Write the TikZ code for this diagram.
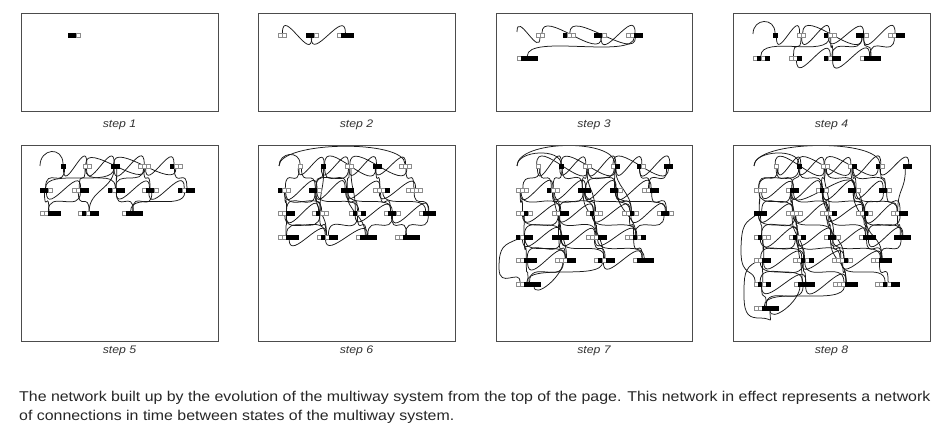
\documentclass[tikz,border=0pt]{standalone}
\usepackage{fontspec}
\setmainfont{Liberation Sans}
\newfontfamily\capfont[FakeStretch=1.12]{Liberation Sans}
\pgfdeclarelayer{edges}
\pgfsetlayers{edges,main}
\newcommand\mkstate[4]{%
  \foreach \c [count=\i] in {#4} {\xdef\stn{\i}}%
  \pgfmathsetmacro\stw{\stn*4}%
  \node[stnode, minimum width=\stw bp, anchor=west] (#1) at (#2,#3) {};%
  \foreach \c [count=\i] in {#4} {\path[cell\c] ([xshift=\i*4bp-4bp, yshift=2bp]#1.west) rectangle +(4,4);}%
}
\newcommand\edg[2]{%
  \path (#1.south); \pgfgetlastxy{\ax}{\ay}%
  \path (#2.north); \pgfgetlastxy{\bx}{\by}%
  \pgfmathsetmacro\ea{rand*2}%
  \pgfmathsetmacro\eb{rand*2}%
  \pgfmathsetmacro\eh{((\by-\ay)>0 ? 27 : 22)+rand*3}%
  \draw[edge] ([xshift=\ea bp]#1.south) .. controls +(0,\eh) and +(0,-\eh) .. ([xshift=\eb bp]#2.north);%
}
\begin{document}
\begin{tikzpicture}[x=1bp,y=-1bp,
  frame/.style={draw=black!70, line width=0.9bp},
  edge/.style={draw=black!90, line width=0.75bp},
  cell0/.style={fill=white, draw=black!45, line width=0.4bp},
  cell1/.style={fill=black, draw=black, line width=0.4bp},
  stnode/.style={inner sep=0pt, outer sep=0pt, minimum height=4bp},
  stepcap/.style={font=\capfont\itshape\fontsize{11}{13}\selectfont, text=black!80},
  txt/.style={font=\capfont\fontsize{14.26}{17}\selectfont, text=black!85, inner sep=0pt, anchor=base west}]
\pgfmathsetseed{7}
\useasboundingbox (0,0) rectangle (946,435);
% frames
\draw[frame] (21,13) rectangle (218,111);
\draw[frame] (258,13) rectangle (455,111);
\draw[frame] (496,13) rectangle (692,111);
\draw[frame] (733,13) rectangle (930,111);
\draw[frame] (21,145) rectangle (218,341);
\draw[frame] (258,145) rectangle (455,341);
\draw[frame] (496,145) rectangle (692,341);
\draw[frame] (733,145) rectangle (930,341);
% captions
\node[stepcap] (s1) at (119.5,125) {step 1};
\node[stepcap] (s2) at (356.5,125) {step 2};
\node[stepcap] (s3) at (594,125) {step 3};
\node[stepcap] (s4) at (831.5,125) {step 4};
\node[stepcap] (s5) at (119.5,351) {step 5};
\node[stepcap] (s6) at (356.5,351) {step 6};
\node[stepcap] (s7) at (594,351) {step 7};
\node[stepcap] (s8) at (831.5,351) {step 8};
\node[txt] (t1) at (19,401) {The network built up by the evolution of the multiway system from the top of the page. This network in effect represents a network};
\node[txt] (t2) at (19,420) {of connections in time between states of the multiway system.};
% ---- step 1
\mkstate{Aa1}{68}{35}{1,1,0}
% ---- step 2
\mkstate{Ba1}{278}{35}{0,0}
\mkstate{Ba2}{306}{35}{1,1,0}
\mkstate{Ba3}{337}{35}{0,1,1,1}
% ---- step 3
\mkstate{Ca1}{536}{35}{0,0}
\mkstate{Ca2}{563}{35}{1,0,0}
\mkstate{Ca3}{594}{35}{1,1,0}
\mkstate{Ca4}{626}{35}{0,0,1,1}
\mkstate{Cb1}{517}{58}{0,1,1,1,1}
\coordinate (Cf) at (517,32);
% ---- step 4
\mkstate{Da1}{773}{35}{1}
\mkstate{Da2}{797}{35}{0,0}
\mkstate{Da3}{824}{35}{1,0,0}
\mkstate{Da4}{856}{35}{1,1,0}
\mkstate{Da5}{888}{35}{0,0,1,1}
\mkstate{Db1}{753}{58}{0,1,0,1}
\mkstate{Db2}{789}{58}{0,0,1}
\mkstate{Db3}{824}{58}{1,0,1,1}
\mkstate{Db4}{860}{58}{0,1,1,1,1}
\coordinate (Df) at (753,34);
% ---- step 5
\mkstate{Ea1}{61}{166}{1}
\mkstate{Ea2}{83}{166}{0,0}
\mkstate{Ea3}{111}{166}{1,1}
\mkstate{Ea4}{138}{166}{0,0,0}
\mkstate{Ea5}{170}{166}{1,0,0}
\mkstate{Eb1}{40}{190}{1,1,0}
\mkstate{Eb2}{72}{190}{0,0,1,1}
\mkstate{Eb3}{108}{190}{1,0,1,1}
\mkstate{Eb4}{142}{190}{0,1,1,0}
\mkstate{Eb5}{178}{190}{1,0,1,1}
\mkstate{Ec1}{40}{213}{0,0,1,1,1}
\mkstate{Ec2}{78}{213}{0,1,0,1,1}
\mkstate{Ec3}{122}{213}{0,1,1,1,1}
\coordinate (Ef) at (40,166);
% ---- step 6
\mkstate{Fa1}{298}{166}{0}
\mkstate{Fa2}{321}{166}{1}
\mkstate{Fa3}{345}{166}{0,0}
\mkstate{Fa4}{373}{166}{1,1}
\mkstate{Fa5}{399}{166}{0,0,0}
\mkstate{Fb1}{278}{190}{1,0,0}
\mkstate{Fb2}{309}{190}{1,1,0}
\mkstate{Fb3}{341}{190}{1,1,1}
\mkstate{Fb4}{373}{190}{0,0,0,1}
\mkstate{Fb5}{406}{190}{0,0,0,0}
\mkstate{Fc1}{278}{213}{0,0,1,1}
\mkstate{Fc2}{312}{213}{0,1,0,0}
\mkstate{Fc3}{349}{213}{0,1,0,1}
\mkstate{Fc4}{384}{213}{0,1,1,0}
\mkstate{Fc5}{419}{213}{0,1,1,1}
\mkstate{Fd1}{278}{237}{0,0,1,1,1}
\mkstate{Fd2}{317}{237}{0,1,0,1,1}
\mkstate{Fd3}{356}{237}{0,1,1,1,1}
\mkstate{Fd4}{395}{237}{0,0,1,1,1,1}
\coordinate (Ff) at (279,166);
% ---- step 7
\mkstate{Ga1}{536}{166}{0}
\mkstate{Ga2}{559}{166}{1}
\mkstate{Ga3}{583}{166}{0,0}
\mkstate{Ga4}{611}{166}{0,1}
\mkstate{Ga5}{637}{166}{1,0}
\mkstate{Ga6}{664}{166}{1,1}
\mkstate{Gb1}{516}{190}{0,0,0}
\mkstate{Gb2}{547}{190}{1,0,0}
\mkstate{Gb3}{578}{190}{1,1,1}
\mkstate{Gb4}{610}{190}{1,1,0}
\mkstate{Gb5}{642}{190}{0,0,1,1}
\mkstate{Gc1}{516}{213}{0,0,1,0}
\mkstate{Gc2}{552}{213}{0,0,1,1}
\mkstate{Gc3}{586}{213}{0,1,0,0}
\mkstate{Gc4}{622}{213}{0,0,1,0}
\mkstate{Gc5}{657}{213}{0,1,1,0}
\mkstate{Gd1}{516}{237}{1,0,1,1}
\mkstate{Gd2}{552}{237}{1,1,1,1}
\mkstate{Gd3}{586}{237}{0,0,0,1,1}
\mkstate{Gd4}{625}{237}{0,0,1,0,1}
\mkstate{Ge1}{516}{260}{0,0,1,1,1}
\mkstate{Ge2}{555}{260}{0,0,0,1,1}
\mkstate{Ge3}{594}{260}{0,1,0,1,1}
\mkstate{Ge4}{633}{260}{0,1,1,1,1}
\mkstate{Gf1}{516}{284}{0,0,1,1,1,1}
\coordinate (Gf) at (517,166);
% ---- step 8
\mkstate{Ha1}{774}{166}{0}
\mkstate{Ha2}{797}{166}{1}
\mkstate{Ha3}{821}{166}{0,0}
\mkstate{Ha4}{848}{166}{0,1}
\mkstate{Ha5}{876}{166}{1,0}
\mkstate{Ha6}{903}{166}{1,1}
\mkstate{Hb1}{754}{190}{0,0,0}
\mkstate{Hb2}{786}{190}{0,1,1}
\mkstate{Hb3}{816}{190}{0,1,0}
\mkstate{Hb4}{848}{190}{1,1,0}
\mkstate{Hb5}{879}{190}{1,1,0}
\mkstate{Hc1}{754}{213}{1,1,1}
\mkstate{Hc2}{786}{213}{0,0,0,0}
\mkstate{Hc3}{820}{213}{0,0,0,1}
\mkstate{Hc4}{856}{213}{0,0,1,0}
\mkstate{Hc5}{891}{213}{0,0,1,1}
\mkstate{Hd1}{754}{237}{0,1,0,0}
\mkstate{Hd2}{789}{237}{0,1,0,1}
\mkstate{Hd3}{824}{237}{0,1,1,0}
\mkstate{Hd4}{859}{237}{0,1,1,1}
\mkstate{Hd5}{894}{237}{1,1,1,1}
\mkstate{He1}{754}{260}{0,0,1,1}
\mkstate{He2}{793}{260}{0,0,1,0,1}
\mkstate{He3}{832}{260}{0,0,0,1,0}
\mkstate{He4}{871}{260}{0,0,1,1,1}
\mkstate{Hf1}{754}{284}{0,1,0,1}
\mkstate{Hf2}{794}{284}{0,1,1,1,1}
\mkstate{Hf3}{833}{284}{0,0,0,1,1,1}
\mkstate{Hf4}{875}{284}{0,0,1,0,1,1}
\mkstate{Hg1}{754}{308}{0,0,1,1,1,1}
\coordinate (Hf) at (754,166);
% ================= connectors
\begin{pgfonlayer}{edges}
% step 2
\foreach \p/\q in {Ba2/Ba1, Ba2/Ba3} {\edg{\p}{\q}}
% step 3
\draw[edge] (Ca1.south) .. controls +(0,22) and +(0,-22) .. (Cf);
\foreach \p/\q in {Ca3/Ca1, Ca4/Ca2, Ca3/Ca4, Ca4/Cb1} {\edg{\p}{\q}}
% step 4
\draw[edge] (Df) .. controls +(0,-16) and +(0,-16) .. (Da1.north);
\foreach \p/\q in {Da1/Da2, Da2/Da3, Da3/Da4, Da4/Da5, Da4/Da2, Da3/Db1, Da2/Db2,
  Da3/Db3, Da4/Db3, Da4/Db4, Db2/Db3, Db3/Db4, Da5/Db4} {\edg{\p}{\q}}
% step 5
\draw[edge] (Ef) .. controls +(0,-18) and +(0,-18) .. (Ea1.north);
\foreach \p/\q in {Ea1/Ea2, Ea2/Ea3, Ea3/Ea4, Ea4/Ea5, Ea4/Ea2, Ea5/Ea3,
  Ea1/Eb1, Ea2/Eb2, Ea3/Eb3, Ea4/Eb4, Ea5/Eb5, Ea2/Eb3, Ea4/Eb3, Ea3/Eb1,
  Eb1/Eb2, Eb3/Eb4, Eb4/Eb5,
  Eb1/Ec1, Eb2/Ec2, Eb3/Ec3, Eb4/Ec3, Eb2/Ec1, Eb5/Ec3, Ea3/Ec2} {\edg{\p}{\q}}
% step 6
\draw[edge] (Ff) .. controls +(0,-25) and +(0,-25) .. (Fa5.north);
\draw[edge] (Ff) .. controls +(0,-14) and +(0,-14) .. (Fa1.north);
\foreach \p/\q in {Fa1/Fa2, Fa2/Fa3, Fa3/Fa4, Fa4/Fa5, Fa4/Fa2, Fa5/Fa3,
  Fa1/Fb1, Fa2/Fb2, Fa2/Fb3, Fa3/Fb3, Fa4/Fb4, Fa5/Fb5, Fa3/Fb2, Fa1/Fb2,
  Fb1/Fb2, Fb2/Fb3, Fb3/Fb4, Fb4/Fb5,
  Fb1/Fc1, Fb1/Fc2, Fb2/Fc2, Fb2/Fc3, Fb3/Fc3, Fb3/Fc4, Fb4/Fc4, Fb4/Fc5, Fb5/Fc5, Fb2/Fc1,
  Fc1/Fc2, Fc3/Fc4, Fc4/Fc5,
  Fc1/Fd1, Fc2/Fd1, Fc2/Fd2, Fc3/Fd2, Fc3/Fd3, Fc4/Fd3, Fc4/Fd4, Fc5/Fd4, Fc1/Fd2,
  Fd1/Fd2, Fd2/Fd3,
  Fa3/Fc3, Fb2/Fd2, Fb3/Fd3, Fa2/Fc2} {\edg{\p}{\q}}
% step 7
\draw[edge] (Gf) .. controls +(0,-26) and +(0,-26) .. (Ga4.north);
\draw[edge] (Gf) .. controls +(0,-16) and +(0,-16) .. (Ga2.north);
\foreach \p/\q in {Ga1/Ga2, Ga2/Ga3, Ga3/Ga4, Ga4/Ga5, Ga5/Ga6, Ga3/Ga1, Ga4/Ga2, Ga6/Ga4,
  Ga1/Gb1, Ga1/Gb2, Ga2/Gb2, Ga2/Gb3, Ga3/Gb3, Ga3/Gb4, Ga4/Gb4, Ga5/Gb5, Ga6/Gb5, Ga4/Gb3,
  Gb1/Gb2, Gb2/Gb3, Gb3/Gb4, Gb4/Gb5,
  Gb1/Gc1, Gb1/Gc2, Gb2/Gc2, Gb2/Gc3, Gb3/Gc3, Gb3/Gc4, Gb4/Gc4, Gb4/Gc5, Gb5/Gc5, Gb3/Gc2,
  Gc1/Gc2, Gc2/Gc3, Gc3/Gc4, Gc4/Gc5,
  Gc1/Gd1, Gc1/Gd2, Gc2/Gd2, Gc2/Gd3, Gc3/Gd3, Gc3/Gd4, Gc4/Gd4, Gc5/Gd4, Gc2/Gd1,
  Gd1/Gd2, Gd2/Gd3, Gd3/Gd4,
  Gd1/Ge1, Gd1/Ge2, Gd2/Ge2, Gd2/Ge3, Gd3/Ge3, Gd3/Ge4, Gd4/Ge4, Gd2/Ge1,
  Ge1/Ge2, Ge3/Ge4,
  Ge1/Gf1, Ge2/Gf1, Ge3/Gf1,
  Ga3/Gc3, Ga4/Gc4, Gb2/Gd2, Gb3/Gd3, Gc2/Ge2, Gc3/Ge3, Gb4/Gd4} {\edg{\p}{\q}}
\draw[edge] ([xshift=-6bp]Gd1.south) .. controls +(-14,6) and +(0,-22) .. (499,268)
  .. controls +(0,22) and +(0,-14) .. ([xshift=-8bp]Gf1.north);
\draw[edge] ([xshift=6bp]Gf1.south) .. controls +(0,14) and +(0,14) .. ([xshift=-2bp]Ge2.south);
% step 8
\draw[edge] (Hf) .. controls +(0,-26) and +(0,-26) .. (Ha5.north);
\draw[edge] (Hf) .. controls +(0,-16) and +(0,-16) .. (Ha2.north);
\foreach \p/\q in {Ha1/Ha2, Ha2/Ha3, Ha3/Ha4, Ha4/Ha5, Ha5/Ha6, Ha3/Ha1, Ha4/Ha2, Ha5/Ha3,
  Ha1/Hb1, Ha1/Hb2, Ha2/Hb2, Ha2/Hb3, Ha3/Hb3, Ha3/Hb4, Ha4/Hb4, Ha4/Hb5, Ha5/Hb5, Ha2/Hb1, Ha6/Hc5,
  Hb1/Hb2, Hb2/Hb3, Hb3/Hb4, Hb4/Hb5, Hb2/Hb4,
  Hb1/Hc1, Hb1/Hc2, Hb2/Hc2, Hb2/Hc3, Hb3/Hc3, Hb3/Hc4, Hb4/Hc4, Hb4/Hc5, Hb5/Hc5, Hb2/Hc1, Hb5/Hc4,
  Hc1/Hc2, Hc2/Hc3, Hc3/Hc4, Hc4/Hc5,
  Hc1/Hd1, Hc1/Hd2, Hc2/Hd2, Hc2/Hd3, Hc3/Hd3, Hc3/Hd4, Hc4/Hd4, Hc4/Hd5, Hc5/Hd5, Hc2/Hd1, Hc5/Hd4,
  Hd1/Hd2, Hd2/Hd3, Hd3/Hd4, Hd4/Hd5,
  Hd1/He1, Hd1/He2, Hd2/He2, Hd2/He3, Hd3/He3, Hd3/He4, Hd4/He4, Hd5/He4, Hd2/He1,
  He1/He2, He2/He3, He3/He4,
  He1/Hf1, He1/Hf2, He2/Hf2, He2/Hf3, He3/Hf3, He3/Hf4, He4/Hf4, He2/Hf1,
  Hf1/Hf2, Hf2/Hf3,
  Hf1/Hg1, Hf2/Hg1, Hf3/Hg1,
  Ha3/Hc3, Ha4/Hc4, Hb2/Hd2, Hb3/Hd3, Hb4/Hd4, Hc2/He2, Hc3/He3, Hc4/He4, Hd2/Hf2, Hd3/Hf3} {\edg{\p}{\q}}
\draw[edge] ([xshift=-4bp]Hc1.south) .. controls +(-10,8) and +(0,-30) .. (741,252)
  .. controls +(0,26) and +(0,-14) .. ([xshift=-7bp]Hf1.north);
\draw[edge] ([xshift=-6bp]He1.south) .. controls +(-12,6) and +(0,-20) .. (744,296)
  .. controls +(0,20) and +(-10,0) .. (760,318) .. controls +(14,0) and +(0,16) .. ([xshift=4bp]Hg1.south);
\draw[edge] ([xshift=4bp]Hg1.south) .. controls +(0,14) and +(0,16) .. ([xshift=-4bp]Hf2.south);
\end{pgfonlayer}
\end{tikzpicture}
\end{document}
